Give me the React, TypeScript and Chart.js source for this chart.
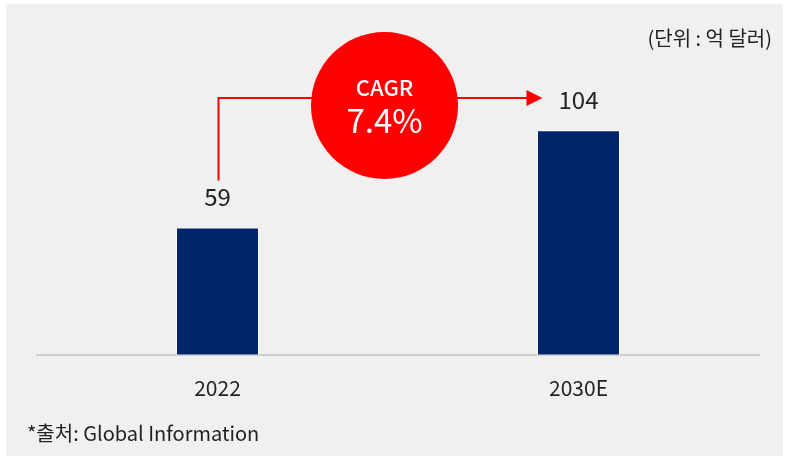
import React, { useEffect, useRef } from "react";
import { Chart, registerables } from "chart.js";

Chart.register(...registerables);

const categories = ["2022", "2030E"];
const values = [59, 104];
const valueLabels = ["59", "104"];
const unitLabel = "(단위 : 억 달러)";
const sourceLabel = "*출처: Global Information";
const cagrTitle = "CAGR";
const cagrValue = "7.4%";

const FONT = "'Noto Sans CJK KR', 'Noto Sans', sans-serif";

const overlayPlugin = {
  id: "overlay",
  beforeDraw(chart: any) {
    const ctx = chart.ctx;
    ctx.save();
    ctx.fillStyle = "#ffffff";
    ctx.fillRect(0, 0, chart.width, chart.height);
    ctx.fillStyle = "#f0f0f0";
    ctx.fillRect(6, 4, 777, 452);
    ctx.restore();
  },
  afterDraw(chart: any) {
    const ctx = chart.ctx;
    const meta = chart.getDatasetMeta(0);
    const b0 = meta.data[0];
    const b1 = meta.data[1];
    ctx.save();
    // value labels
    ctx.fillStyle = "#222222";
    ctx.font = `24px ${FONT}`;
    ctx.textAlign = "center";
    ctx.textBaseline = "middle";
    ctx.fillText(valueLabels[0], b0.x, b0.y - 31);
    ctx.fillText(valueLabels[1], b1.x, b1.y - 30);

    // red connector
    const lineY = 98;
    const tipX = b1.x - 36;
    ctx.strokeStyle = "#ff0000";
    ctx.lineWidth = 2;
    ctx.beginPath();
    ctx.moveTo(b0.x + 1, b0.y - 47);
    ctx.lineTo(b0.x + 1, lineY);
    ctx.lineTo(tipX - 14, lineY);
    ctx.stroke();
    ctx.fillStyle = "#ff0000";
    ctx.beginPath();
    ctx.moveTo(tipX, lineY);
    ctx.lineTo(tipX - 16, lineY - 8);
    ctx.lineTo(tipX - 16, lineY + 8);
    ctx.closePath();
    ctx.fill();

    // circle
    const cx = 384.5;
    const cy = 105.5;
    ctx.beginPath();
    ctx.arc(cx, cy, 73.5, 0, Math.PI * 2);
    ctx.fill();
    ctx.fillStyle = "#ffffff";
    ctx.font = `500 22px ${FONT}`;
    ctx.fillText(cagrTitle, cx, 88);
    ctx.font = `33px ${FONT}`;
    ctx.fillText(cagrValue, cx, 120);

    // unit
    ctx.fillStyle = "#222222";
    ctx.font = `20px ${FONT}`;
    ctx.textAlign = "right";
    ctx.fillText(unitLabel, 772, 38);

    // source
    ctx.textAlign = "left";
    ctx.font = `20px ${FONT}`;
    ctx.fillText(sourceLabel, 27, 433);
    ctx.restore();
  },
};

export default function App() {
  const ref = useRef<HTMLCanvasElement>(null);
  useEffect(() => {
    document.body.style.margin = "0";
    const chart = new Chart(ref.current!, {
      type: "bar",
      data: {
        labels: categories,
        datasets: [
          {
            data: values,
            backgroundColor: "#002469",
            borderColor: "#ffffff",
            borderWidth: 1,
            categoryPercentage: 1,
            barPercentage: 0.23,
          },
        ],
      },
      options: {
        animation: false,
        responsive: false,
        layout: { padding: { top: 98, left: 37, right: 26, bottom: 34 } },
        plugins: { legend: { display: false }, tooltip: { enabled: false } },
        scales: {
          x: {
            grid: { display: false, drawTicks: false },
            border: { display: true, color: "#cfcfcf", width: 2 },
            ticks: { color: "#222222", font: { family: FONT, size: 21 }, padding: 21 },
          },
          y: {
            display: false,
            min: 0,
            max: 119,
          },
        },
      },
      plugins: [overlayPlugin],
    });
    return () => chart.destroy();
  }, []);
  return <canvas ref={ref} width={785} height={456} style={{ display: "block" }} />;
}
